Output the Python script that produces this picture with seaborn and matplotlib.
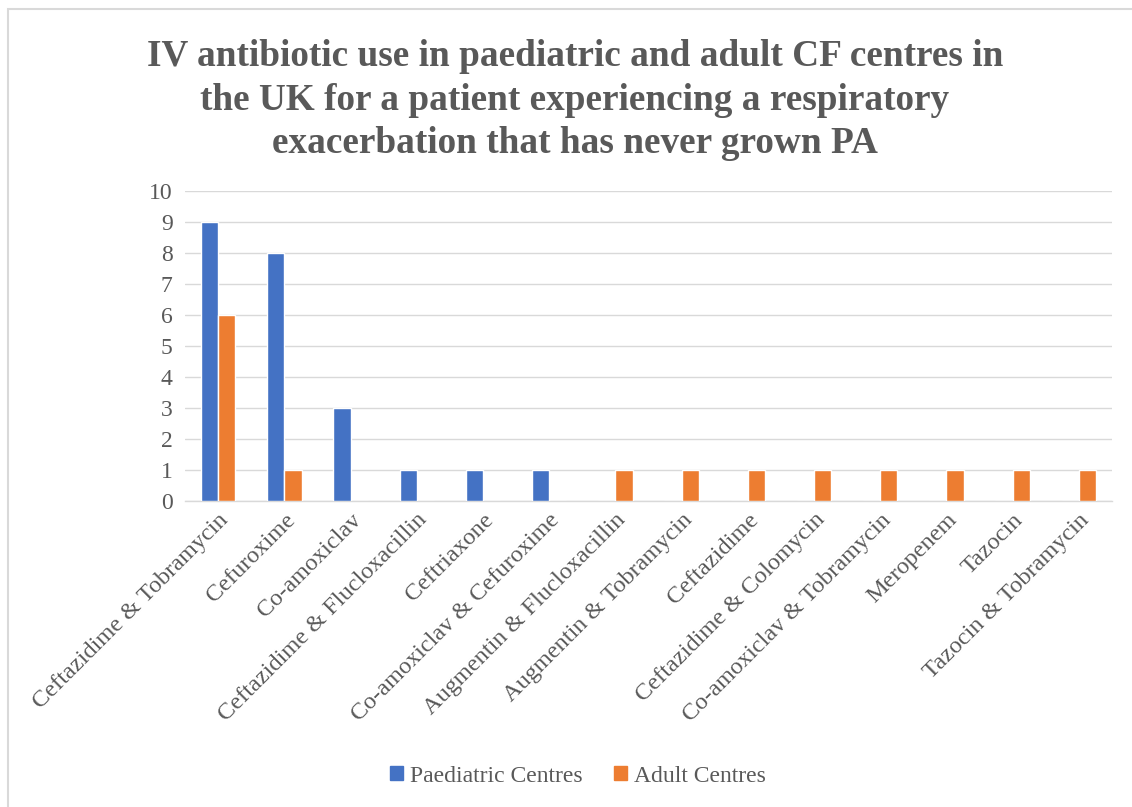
import matplotlib
matplotlib.use("Agg")
import matplotlib.pyplot as plt
import seaborn as sns
import pandas as pd
from matplotlib.patches import Rectangle

categories = ["Ceftazidime & Tobramycin", "Cefuroxime", "Co-amoxiclav",
              "Ceftazidime & Flucloxacillin", "Ceftriaxone", "Co-amoxiclav & Cefuroxime",
              "Augmentin & Flucloxacillin", "Augmentin & Tobramycin", "Ceftazidime",
              "Ceftazidime & Colomycin", "Co-amoxiclav & Tobramycin", "Meropenem",
              "Tazocin", "Tazocin & Tobramycin"]
paediatric = [9, 8, 3, 1, 1, 1, 0, 0, 0, 0, 0, 0, 0, 0]
adult = [6, 1, 0, 0, 0, 0, 1, 1, 1, 1, 1, 1, 1, 1]
series_names = ["Paediatric Centres", "Adult Centres"]
colors = ["#4472C4", "#ED7D31"]
title = ("IV antibiotic use in paediatric and adult CF centres in\n"
         "the UK for a patient experiencing a respiratory\n"
         "exacerbation that has never grown PA")

df = pd.DataFrame({
    "cat": categories * 2,
    "val": paediatric + adult,
    "series": [series_names[0]] * len(categories) + [series_names[1]] * len(categories),
})

sns.set_style("white")
plt.rcParams['font.family'] = ['Liberation Serif', 'DejaVu Serif']
txt = "#595959"

fig = plt.figure(figsize=(11.32, 8.07), dpi=100)
ax = fig.add_axes([185/1132, 1-501/807, (1112-185)/1132, (501-191)/807])
sns.barplot(data=df, x="cat", y="val", hue="series", palette=colors, width=0.52,
            saturation=1, edgecolor="white", linewidth=1, ax=ax, legend=False, zorder=3)

ax.set_ylim(0, 10)
ax.set_xlim(-0.5, len(categories) - 0.5)
ax.set_yticks(range(0, 11))
ax.yaxis.grid(True, color="#D9D9D9", linewidth=1, zorder=0)
ax.set_axisbelow(True)
for s in ["top", "right", "left"]:
    ax.spines[s].set_visible(False)
ax.spines["bottom"].set_color("#D9D9D9")
ax.spines["bottom"].set_linewidth(1)
ax.tick_params(axis="both", length=0, labelsize=17, colors=txt, pad=6)
ax.tick_params(axis="y", pad=9)
ax.set_xticks(range(len(categories)))
ax.set_xticklabels(categories, rotation=45, ha="right", va="top",
                   rotation_mode="anchor", fontsize=17.5, color=txt)
ax.set_xlabel("")
ax.set_ylabel("")

fig.text(575/1132, 1-100/807, title, ha="center", va="center", fontsize=26.8,
         fontweight="bold", color=txt, linespacing=1.32)

handles = [Rectangle((0, 0), 1, 1, color=c) for c in colors]
fig.legend(handles, series_names, loc="center", bbox_to_anchor=(578/1132, 1-776/807),
           ncol=2, frameon=False, fontsize=17, labelcolor=txt, handlelength=0.55,
           handleheight=0.55, handletextpad=0.3, columnspacing=1.3)

fig.patches.append(Rectangle((8/1132, -0.1), 1.2, 1 - 9/807 + 0.1, transform=fig.transFigure,
                             fill=False, edgecolor="#D9D9D9", linewidth=1.5, figure=fig))

fig.savefig("out.png", dpi=100, facecolor="white")
